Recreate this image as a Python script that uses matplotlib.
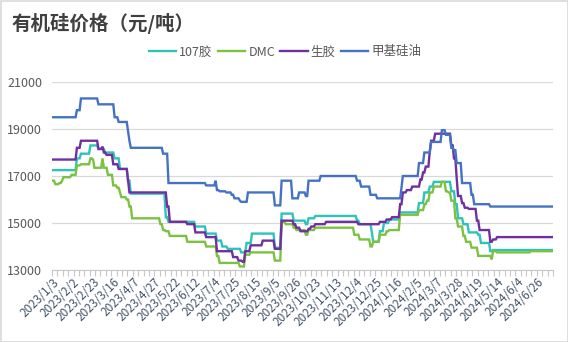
import numpy as np
import matplotlib
matplotlib.use("Agg")
import matplotlib.pyplot as plt
from matplotlib.patches import Rectangle

plt.rcParams['font.family'] = ['Noto Sans CJK SC', 'DejaVu Sans']

N = 372  # number of trading-day categories

tick_labels = ["2023/1/3", "2023/2/2", "2023/2/23", "2023/3/16", "2023/4/7", "2023/4/27",
               "2023/5/22", "2023/6/12", "2023/7/4", "2023/7/25", "2023/8/15", "2023/9/5",
               "2023/9/26", "2023/10/23", "2023/11/13", "2023/12/4", "2023/12/25", "2024/1/16",
               "2024/2/5", "2024/3/7", "2024/3/28", "2024/4/19", "2024/5/14", "2024/6/4", "2024/6/26"]

# series as (start index, price) step points
teal_start = [0,18,21,28,34,39,46,50,56,58,84,86,106,114,122,126,130,140,144,148,165,170,179,188,190,195,226,228,237,238,243,246,250,258,272,276,280,283,296,299,301,305,309,316,318,325,327]
teal_val = [17250,17750,17950,18300,18150,18000,17750,17300,16800,16250,15250,15050,14850,14550,14250,14000,13900,13750,14150,14550,13950,15400,15100,14950,15200,15300,15100,14950,14600,14200,14650,15000,15150,15450,15850,16300,16550,16750,16350,15800,15200,14950,14600,14500,14150,13800,13850]

green_start = [0,2,5,7,8,14,18,21,28,30,31,37,38,41,45,48,50,51,55,57,59,80,82,84,87,100,114,122,124,139,143,147,165,170,173,179,181,188,190,195,224,228,236,238,243,248,250,258,272,276,278,280,283,289,292,294,296,299,301,305,307,311,316,326,327,330,355]
green_val = [16800,16650,16700,16800,16950,17050,17450,17500,17750,17700,17350,17750,17350,17050,16600,16500,16300,16100,16000,15700,15200,14950,14700,14650,14450,14200,14000,13600,13300,13150,13650,13750,13400,15050,14950,14800,14700,14500,14700,14800,14500,14300,14000,14200,14500,14650,14700,15350,15550,15800,15950,16300,16550,16750,16350,16300,15950,15200,14850,14450,14200,13950,13600,13450,13800,13750,13800]

purple_start = [0,18,21,34,37,38,40,45,49,56,57,85,87,100,106,114,122,134,138,141,143,147,156,165,170,179,181,184,190,192,195,203,227,243,248,252,258,260,263,267,273,275,277,280,281,284,296,298,300,301,304,306,309,315,317,325,327,330]
purple_val = [17700,18200,18500,18150,18250,18000,17900,17500,17300,16800,16300,15700,15050,14950,14600,14400,13800,13550,13400,13350,13800,14050,14250,13900,15100,14950,14800,14650,14750,14850,14950,15050,14950,15050,15150,15250,15800,16300,16400,16550,16850,17150,17400,18050,18500,18800,18300,17750,16900,16150,15850,15650,15600,15100,14700,14200,14300,14400]

blue_start = [0,18,21,34,46,49,56,57,58,82,86,114,121,122,124,129,133,135,139,140,145,165,170,178,183,188,190,199,226,229,236,241,259,260,272,276,281,289,292,296,298,300,304,311,313,325]
blue_val = [19500,19800,20300,20050,19500,19300,18900,18500,18200,17950,16700,16600,16800,16400,16350,16300,16200,16050,15950,15900,16300,15750,16800,16050,16300,16150,16800,17000,16800,16550,16200,16050,16500,17000,17550,18000,18450,18950,18750,18200,18100,17550,16700,16200,15800,15700]


def expand(starts, vals):
    counts = np.diff(list(starts) + [N])
    return np.repeat(np.array(vals, dtype=float), counts)


series = [
    ("107胶", expand(teal_start, teal_val), "#2dc3b9"),
    ("DMC", expand(green_start, green_val), "#7cc242"),
    ("生胶", expand(purple_start, purple_val), "#7030a0"),
    ("甲基硅油", expand(blue_start, blue_val), "#4472c4"),
]

fig = plt.figure(figsize=(5.68, 3.42), dpi=100)
ax = fig.add_axes([52/568, 72/342, 501/568, 188/342])

x = np.arange(N)
for name, y, c in series:
    ax.plot(x, y, color=c, lw=1.7, label=name, solid_joinstyle='miter')

ax.set_xlim(-0.5, N - 0.5)
ax.set_ylim(13000, 21000)
ax.set_yticks([13000, 15000, 17000, 19000, 21000])
ax.yaxis.grid(True, color="#d9d9d9", lw=0.9)
ax.set_axisbelow(True)
for s in ["top", "right", "left"]:
    ax.spines[s].set_visible(False)
ax.spines["bottom"].set_color("#c8c8c8")
ax.tick_params(axis="y", length=0, pad=7, labelsize=9, labelcolor="#595959")

ax.set_xticks(np.arange(0, 15 * len(tick_labels), 15))
ax.set_xticklabels(tick_labels, rotation=45, ha="right", va="top",
                   rotation_mode="anchor", fontsize=8.5, color="#44546a")
ax.tick_params(axis="x", which="major", length=0, pad=4)
ax.set_xticks(np.arange(-0.5, N, 4), minor=True)
ax.tick_params(axis="x", which="minor", length=4, color="#c8c8c8", width=0.8)

fig.text(12/568, 1 - 23/342, "有机硅价格（元/吨）", fontsize=14, fontweight="bold",
         color="#404040", ha="left", va="center")

leg = fig.legend(loc="center", bbox_to_anchor=(285/568, 1 - 52/342), ncol=4, frameon=False,
                 fontsize=9, handlelength=2.2, columnspacing=0.4, handletextpad=0.25,
                 labelcolor="#595959")

fig.add_artist(Rectangle((0.5/568, 0.5/342), 567/568, 341/342, transform=fig.transFigure,
                         fill=False, edgecolor="#d9d9d9", lw=1.2))

fig.savefig("out.png", dpi=100)
